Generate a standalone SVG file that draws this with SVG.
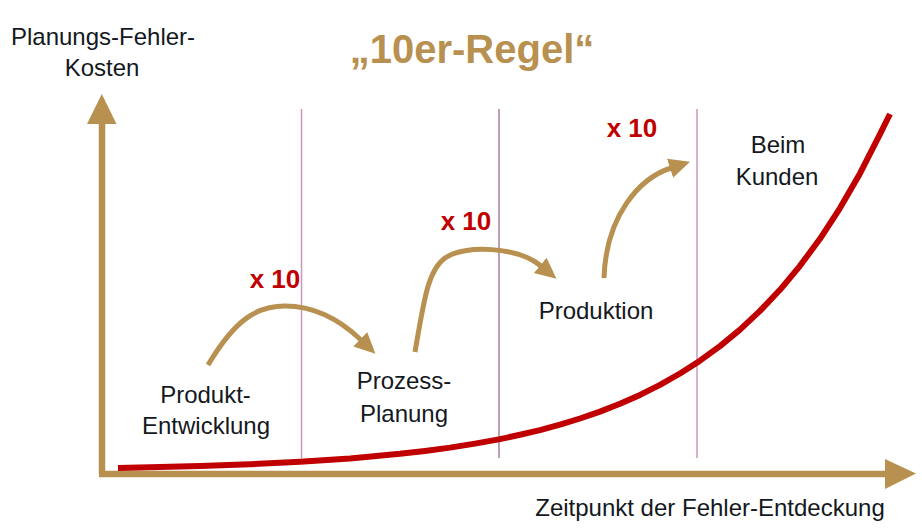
<svg xmlns="http://www.w3.org/2000/svg" width="922" height="528" viewBox="0 0 922 528">
  <style>
    .lbl { font-family: "Liberation Sans", Arial, sans-serif; font-size: 24px; fill: #141820; text-anchor: middle; }
    .fac { font-family: "Liberation Sans", Arial, sans-serif; font-size: 26px; font-weight: bold; fill: #c00000; text-anchor: middle; }
    .title { font-family: "Liberation Sans", Arial, sans-serif; font-size: 40px; font-weight: bold; fill: #b8904f; text-anchor: middle; }
    .phase { stroke: #c898bc; stroke-width: 1.5; }
    .axis { stroke: #b8904f; stroke-width: 6.5; fill: none; }
    .step { stroke: #b8904f; stroke-width: 5; fill: none; stroke-linecap: butt; marker-end: url(#head); }
    .cost { stroke: #c00000; stroke-width: 6; fill: none; stroke-linejoin: round; }
  </style>
  <defs>
    <marker id="head" markerUnits="userSpaceOnUse" markerWidth="24" markerHeight="22" refX="1" refY="10" orient="auto" viewBox="0 0 24 20">
      <path d="M0,0 L21,10 L0,20 Z" fill="#b8904f"/>
    </marker>
  </defs>
  <rect width="922" height="528" fill="#ffffff"/>

  <g id="title">
    <text class="title" x="472" y="63">„10er-Regel“</text>
  </g>

  <g id="phase-lines">
    <line class="phase" x1="301.5" y1="109" x2="301.5" y2="458"/>
    <line class="phase" x1="499" y1="109" x2="499" y2="458" style="stroke:#a8809c"/>
    <line class="phase" x1="697" y1="109" x2="697" y2="458"/>
  </g>

  <g id="axes">
    <path class="axis" d="M102,474 L102,122"/>
    <polygon points="87,124 116.5,124 101.8,94" fill="#b8904f"/>
    <path class="axis" d="M99,474 L887,474"/>
    <polygon points="885,459 885,489 916,473.5" fill="#b8904f"/>
  </g>

  <g id="cost-curve">
    <polyline class="cost" points="118,468 150,467.3 200,466 250,464.2 300,461.8 350,458.4 400,453.8 425,450.9 450,447.6 475,443.6 500,439.1 520,434.8 540,430.1 560,424.7 580,418.5 600,411.6 620,403.8 640,394.9 660,384.9 680,373.5 700,360.7 720,346.1 740,329.6 760,310.9 780,289.8 800,265.8 820,238.8 840,208.1 860,173.4 880,134.1 890,114"/>
  </g>

  <g id="connectors">
    <path class="step" d="M208,365 C236,318 258,306 285,306 C313,306 338,318 361,340"/>
    <path class="step" d="M415,352 C424,300 428,270 445,258 C465,244 518,247 541,266"/>
    <path class="step" d="M604,278 C606,215 640,178 671,168"/>
  </g>

  <g id="factor-1"><text class="fac" x="275" y="288">x 10</text></g>
  <g id="factor-2"><text class="fac" x="466" y="230">x 10</text></g>
  <g id="factor-3"><text class="fac" x="632" y="137">x 10</text></g>

  <g id="y-label">
    <text class="lbl" x="103" y="45">Planungs-Fehler-</text>
    <text class="lbl" x="102" y="76">Kosten</text>
  </g>

  <g id="produktentwicklung">
    <text class="lbl" x="205.5" y="403">Produkt-</text>
    <text class="lbl" x="206" y="434">Entwicklung</text>
  </g>

  <g id="prozessplanung">
    <text class="lbl" x="404" y="389">Prozess-</text>
    <text class="lbl" x="404" y="422">Planung</text>
  </g>

  <g id="produktion">
    <text class="lbl" x="596" y="319">Produktion</text>
  </g>

  <g id="beim-kunden">
    <text class="lbl" x="778" y="153">Beim</text>
    <text class="lbl" x="777" y="185">Kunden</text>
  </g>

  <g id="x-label">
    <text class="lbl" x="710" y="516">Zeitpunkt der Fehler-Entdeckung</text>
  </g>
</svg>
